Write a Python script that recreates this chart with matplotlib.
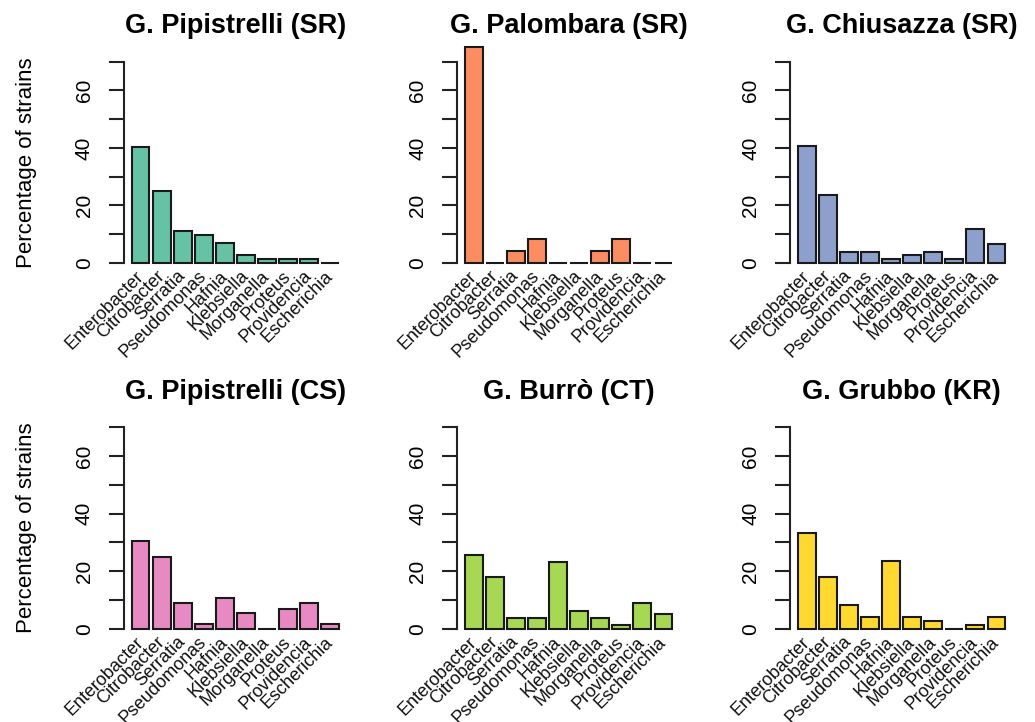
import matplotlib
matplotlib.use("Agg")
import matplotlib.pyplot as plt
import matplotlib.transforms as mtransforms
import numpy as np

genera = ["Enterobacter", "Citrobacter", "Serratia", "Pseudomonas", "Hafnia",
          "Klebsiella", "Morganella", "Proteus", "Providencia", "Escherichia"]

titles = ["G. Pipistrelli (SR)", "G. Palombara (SR)", "G. Chiusazza (SR)",
          "G. Pipistrelli (CS)", "G. Burrò (CT)", "G. Grubbo (KR)"]

pipistrelli_sr = [40.3, 25.0, 11.1, 9.7, 6.9, 2.8, 1.4, 1.4, 1.4, 0.0]
palombara_sr = [75.0, 0.0, 4.2, 8.3, 0.0, 0.0, 4.2, 8.3, 0.0, 0.0]
chiusazza_sr = [40.8, 23.7, 3.9, 3.9, 1.3, 2.6, 3.9, 1.3, 11.8, 6.6]
pipistrelli_cs = [30.4, 25.0, 8.9, 1.8, 10.7, 5.4, 0.0, 7.1, 8.9, 1.8]
burro_ct = [25.6, 17.9, 3.8, 3.8, 23.1, 6.4, 3.8, 1.3, 9.0, 5.1]
grubbo_kr = [33.3, 18.1, 8.3, 4.2, 23.6, 4.2, 2.8, 0.0, 1.4, 4.2]

series = [pipistrelli_sr, palombara_sr, chiusazza_sr,
          pipistrelli_cs, burro_ct, grubbo_kr]
colors = ["#66C2A5", "#FC8D62", "#8DA0CB", "#E78AC3", "#A6D854", "#FFD92F"]

yticks = [0, 10, 20, 30, 40, 50, 60, 70]
ytick_labels = ["0", "", "20", "", "40", "", "60", ""]

plt.rcParams['font.family'] = ['Liberation Sans', 'DejaVu Sans']

W, H = 1035, 722
fig = plt.figure(figsize=(W / 100, H / 100), dpi=100)

lefts = [123.7, 457.0, 790.0]
rights = [347.0, 680.3, 1013.3]
rows = [(53.6, 271.0), (418.9, 637.1)]

n = len(genera)
centers = 0.7 + 1.2 * np.arange(n)

for i, (vals, title, col) in enumerate(zip(series, titles, colors)):
    r, c = divmod(i, 3)
    top, bot = rows[r]
    ax = fig.add_axes([lefts[c] / W, 1 - bot / H,
                       (rights[c] - lefts[c]) / W, (bot - top) / H])
    ax.set_xlim(-0.272, 12.472)
    ax.set_ylim(-2.8, 72.8)
    bars = ax.bar(centers, vals, width=1.0, color=col, edgecolor="#1a1a1a",
                  linewidth=1.5)
    for b in bars:
        b.set_clip_on(False)
    for s in ["top", "right", "bottom"]:
        ax.spines[s].set_visible(False)
    ax.spines["left"].set_bounds(0, 70)
    ax.spines["left"].set_linewidth(1.5)
    ax.spines["left"].set_color("#222222")
    ax.set_xticks([])
    ax.set_yticks(yticks)
    ax.set_yticklabels(ytick_labels, rotation=90, va="center", fontsize=15)
    ax.tick_params(axis="y", length=10.5, width=1.5, pad=11, color="#222222")
    ax.set_title(title, fontsize=19.5, fontweight="bold", pad=14.5)
    off = mtransforms.offset_copy(ax.transData, fig=fig, x=0, y=-2.5,
                                  units="dots")
    for x, name in zip(centers, genera):
        ax.text(x, -2.8, name, transform=off, rotation=45, ha="right",
                va="center", rotation_mode="anchor", fontsize=13,
                color="#111111")

for r in range(2):
    top, bot = rows[r]
    fig.text(27 / W, 1 - (top + bot) / 2 / H, "Percentage of strains",
             rotation=90, ha="center", va="center", fontsize=16)

fig.savefig("out.png", dpi=100)
